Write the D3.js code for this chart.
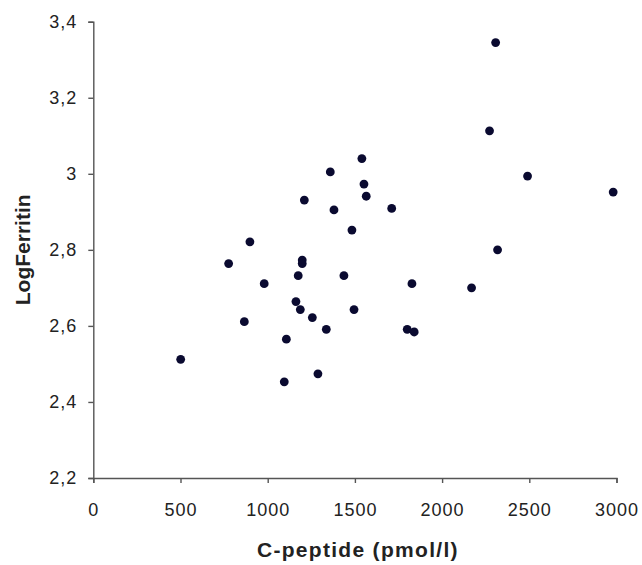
<!DOCTYPE html>
<html>
<head>
<meta charset="utf-8">
<script src="https://cdn.jsdelivr.net/npm/d3@7"></script>
<style>
  html, body { margin: 0; padding: 0; background: #fff; }
  svg { display: block; }
</style>
</head>
<body>
<svg id="chart"></svg>
<script>
// C-peptide (pmol/l) vs LogFerritin
const cPeptide = [
  501, 776, 866, 898, 980, 1095, 1107, 1162, 1175, 1187, 1198, 1198,
  1210, 1256, 1288, 1336, 1359, 1380, 1437, 1483, 1495, 1540, 1552, 1565,
  1711, 1800, 1827, 1840, 2169, 2272, 2307, 2318, 2490, 2981,
];
const logFerritin = [
  2.512, 2.764, 2.611, 2.821, 2.711, 2.453, 2.565, 2.664, 2.732, 2.643, 2.773, 2.764,
  2.931, 2.622, 2.474, 2.591, 3.005, 2.905, 2.732, 2.852, 2.643, 3.04, 2.973, 2.941,
  2.909, 2.591, 2.711, 2.584, 2.7, 3.113, 3.345, 2.8, 2.994, 2.952,
];
const xTicks = [0, 500, 1000, 1500, 2000, 2500, 3000];
const yTicks = [2.2, 2.4, 2.6, 2.8, 3.0, 3.2, 3.4];
const xTitle = "C-peptide (pmol/l)";
const yTitle = "LogFerritin";

const dims = {
  width: 642,
  height: 565,
  margin: { top: 21.7, left: 93.3, right: 25.5, bottom: 87 },
};
dims.innerWidth = dims.width - dims.margin.left - dims.margin.right;
dims.innerHeight = dims.height - dims.margin.top - dims.margin.bottom;

const font = "'Liberation Sans', Arial, sans-serif";
const axisColor = "#555";
const textColor = "#222";

// comma as decimal separator, like the original
const locale = d3.formatLocale({
  decimal: ",",
  thousands: ".",
  grouping: [3],
  currency: ["", ""],
});
const fmtY = locale.format("~g");

const svg = d3
  .select("#chart")
  .attr("width", dims.width)
  .attr("height", dims.height)
  .attr("viewBox", [0, 0, dims.width, dims.height]);

const base = svg
  .append("g")
  .attr("transform", `translate(${dims.margin.left},${dims.margin.top})`);

const xScale = d3.scaleLinear().domain([0, 3000]).range([0, dims.innerWidth]);
const yScale = d3.scaleLinear().domain([2.2, 3.4]).range([dims.innerHeight, 0]);

const styleAxis = (g) => {
  g.select("path.domain").attr("stroke", axisColor).attr("stroke-width", 1.4);
  g.selectAll(".tick line").attr("stroke", axisColor).attr("stroke-width", 1.4);
  g.selectAll(".tick text")
    .attr("fill", textColor)
    .attr("font-family", font)
    .attr("font-size", 18)
    .attr("letter-spacing", 1);
};

// x axis
base
  .append("g")
  .attr("transform", `translate(0,${dims.innerHeight})`)
  .call(
    d3.axisBottom(xScale)
      .tickValues(xTicks)
      .tickFormat(d3.format("d"))
      .tickSize(5)
      .tickPadding(20)
  )
  .call(styleAxis);

// y axis
base
  .append("g")
  .call(
    d3.axisLeft(yScale)
      .tickValues(yTicks)
      .tickFormat(fmtY)
      .tickSize(5)
      .tickPadding(11)
  )
  .call(styleAxis);

// points
const points = cPeptide.map((x, i) => ({ x, y: logFerritin[i] }));
base
  .append("g")
  .selectAll("circle")
  .data(points)
  .enter()
  .append("circle")
  .attr("cx", (d) => xScale(d.x))
  .attr("cy", (d) => yScale(d.y))
  .attr("r", 4.4)
  .attr("fill", "#0a0a30");

// axis titles
svg
  .append("text")
  .attr("x", dims.margin.left + dims.innerWidth / 2 + 3)
  .attr("y", 557)
  .attr("text-anchor", "middle")
  .attr("font-family", font)
  .attr("font-weight", "bold")
  .attr("font-size", 21)
  .attr("letter-spacing", 1.3)
  .attr("fill", textColor)
  .text(xTitle);

svg
  .append("text")
  .attr("transform", `translate(29.5,${dims.margin.top + dims.innerHeight / 2}) rotate(-90)`)
  .attr("text-anchor", "middle")
  .attr("font-family", font)
  .attr("font-weight", "bold")
  .attr("font-size", 21)
  .attr("fill", textColor)
  .text(yTitle);
</script>
</body>
</html>
